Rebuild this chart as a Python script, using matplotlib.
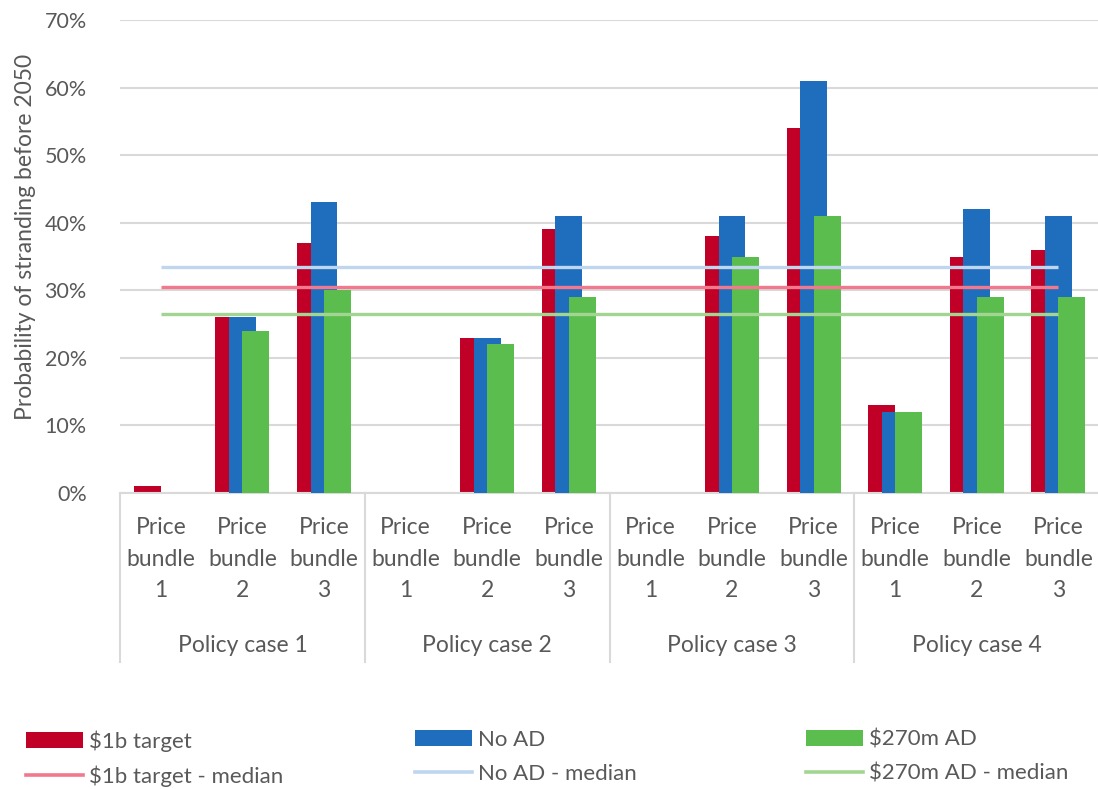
import matplotlib
matplotlib.use("Agg")
import matplotlib.pyplot as plt
import matplotlib.transforms as mtransforms
from matplotlib.patches import Patch
from matplotlib.lines import Line2D
import numpy as np

plt.rcParams['font.family'] = ['Lato', 'DejaVu Sans']

policy_cases = ["Policy case 1", "Policy case 2", "Policy case 3", "Policy case 4"]
bundles = ["Price\nbundle\n1", "Price\nbundle\n2", "Price\nbundle\n3"]

target_1b = [1, 26, 37, 0, 23, 39, 0, 38, 54, 13, 35, 36]
no_ad = [0, 26, 43, 0, 23, 41, 0, 41, 61, 12, 42, 41]
ad_270m = [0, 24, 30, 0, 22, 29, 0, 35, 41, 12, 29, 29]

median_1b = 30.5
median_no_ad = 33.5
median_270m = 26.5

series_names = ["$1b target", "No AD", "$270m AD"]
median_names = ["$1b target - median", "No AD - median", "$270m AD - median"]

bar_colors = ["#C00026", "#1F6EBE", "#5CBD4F"]
line_colors = ["#F2788E", "#BFD6EE", "#A3D592"]
text_color = "#595959"
grid_color = "#D9D9D9"

W, H = 1098, 789
fig = plt.figure(figsize=(W / 100, H / 100), dpi=100)
ax = fig.add_axes([120 / W, 1 - 493 / H, (W - 120) / W + 0.01, (493 - 20) / H])

n = len(target_1b)
x = np.arange(n)
bw = 0.33
off = 0.166
for vals, dx, c, z in zip([target_1b, no_ad, ad_270m], [-off, 0, off], bar_colors, [2, 3, 4]):
    ax.bar(x + dx, np.array(vals) / 100, width=bw, color=c, zorder=z, linewidth=0)

for m, c in zip([median_no_ad, median_1b, median_270m], [line_colors[1], line_colors[0], line_colors[2]]):
    ax.plot([x[0], x[-1]], [m / 100, m / 100], color=c, lw=2.4, zorder=6, solid_capstyle='butt')

ax.set_xlim(-0.5, n - 0.5 + 0.12)
ax.set_ylim(0, 0.70)
ax.set_yticks(np.arange(0, 0.71, 0.1))
ax.set_yticklabels([f"{int(round(v * 100))}%" for v in np.arange(0, 0.71, 0.1)])
ax.yaxis.grid(True, color=grid_color, lw=1.5, zorder=0)
ax.set_axisbelow(True)
for s in ["left", "right", "top"]:
    ax.spines[s].set_visible(False)
ax.spines["bottom"].set_color(grid_color)
ax.spines["bottom"].set_linewidth(1.5)
ax.tick_params(axis='y', length=0, labelsize=15.5, labelcolor=text_color, pad=24)
ax.set_xticks([])
ax.set_ylabel("Probability of stranding before 2050", fontsize=16.5, color=text_color)
ax.yaxis.set_label_coords(-0.085, (493 - 237) / 473)

trans = mtransforms.blended_transform_factory(ax.transData, fig.transFigure)
for i in range(n):
    ax.text(x[i], 1 - 559 / H, bundles[i % 3], transform=trans, ha='center', va='center',
            fontsize=16.5, color=text_color, linespacing=1.62, clip_on=False)
for j, pc in enumerate(policy_cases):
    ax.text(3 * j + 1, 1 - 645 / H, pc, transform=trans, ha='center', va='center',
            fontsize=16.5, color=text_color, clip_on=False)
for b in [-0.5, 2.5, 5.5, 8.5]:
    ax.add_line(Line2D([b, b], [1 - 493 / H, 1 - 662 / H], transform=trans, color=grid_color,
                       lw=1.5, clip_on=False))

legend_x = [26 / W, 415 / W, 806 / W]
for k in range(3):
    handles = [Patch(facecolor=bar_colors[k], edgecolor='none'),
               Line2D([0], [0], color=line_colors[k], lw=2.6)]
    leg = fig.legend(handles, [series_names[k], median_names[k]], loc='upper left',
                     bbox_to_anchor=(legend_x[k], 1 - 730 / H), frameon=False,
                     fontsize=16, handlelength=2.57, handletextpad=0.27, labelspacing=0.62,
                     borderpad=0, borderaxespad=0, labelcolor=text_color)

fig.savefig("out.png", dpi=100)
